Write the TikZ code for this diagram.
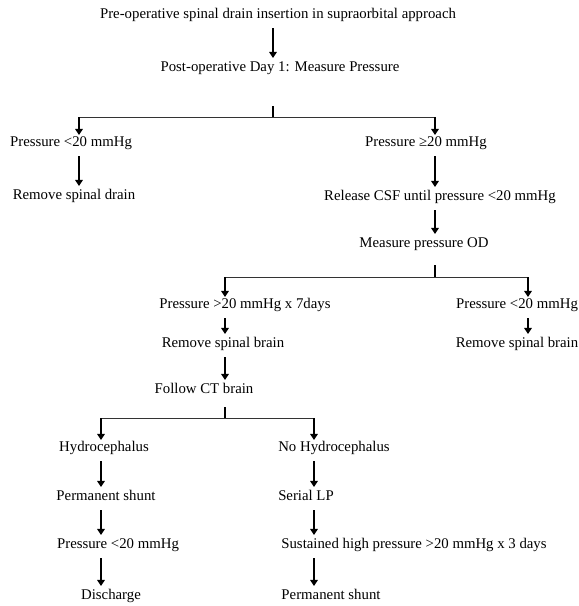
\documentclass[tikz,border=0pt]{standalone}
\usepackage{fontspec}
\setmainfont{Liberation Serif}
\usetikzlibrary{arrows.meta}

\begin{document}
\begin{tikzpicture}[x=1pt, y=-1pt,
    every node/.style={font=\fontsize{14.8}{17}\selectfont, inner sep=0pt,
      text height=10.4pt, text depth=3.3pt},
    flow/.style={line width=1.6pt, -{Triangle[length=6pt,width=7.5pt]},
      shorten <=6pt, shorten >=3pt},
    drop/.style={line width=1.6pt, -{Triangle[length=6pt,width=7.5pt]},
      shorten >=1pt},
    tick/.style={line width=1.6pt},
    bar/.style={line width=0.9pt, black!80}]
  \useasboundingbox (0,0) rectangle (579,606);

  % steps
  \node (pre) at (278,15) {Pre-operative spinal drain insertion in supraorbital approach};
  \node (post) at (280,68) {Post-operative Day 1: Measure Pressure};

  \node (lowA) at (71,143) {Pressure <20 mmHg};
  \node (highA) at (426,143) {Pressure ≥20 mmHg};
  \node (removeA) at (74,196) {Remove spinal drain};
  \node (release) at (440,197) {Release CSF until pressure <20 mmHg};
  \node (measure) at (424,244) {Measure pressure OD};

  \node (highB) at (245,305) {Pressure >20 mmHg x 7days};
  \node (lowB) at (517,305) {Pressure <20 mmHg};
  \node (removeB) at (223,344) {Remove spinal brain};
  \node (removeC) at (517,344) {Remove spinal brain};
  \node (follow) at (204,390) {Follow CT brain};

  \node (hydro) at (104,448) {Hydrocephalus};
  \node (nohydro) at (334,448) {No Hydrocephalus};
  \node (shuntA) at (106,497) {Permanent shunt};
  \node (serial) at (306,497) {Serial LP};
  \node (lowC) at (118,545) {Pressure <20 mmHg};
  \node (sustained) at (414,545) {Sustained high pressure >20 mmHg x 3 days};
  \node (discharge) at (111,596) {Discharge};
  \node (shuntB) at (331,596) {Permanent shunt};

  % branch points
  \coordinate (up1) at (273,106);
  \coordinate (mid1) at (273,117);
  \coordinate (left1) at (79,117);
  \coordinate (right1) at (435,117);
  \coordinate (up2) at (435,265);
  \coordinate (left2) at (225,277);
  \coordinate (right2) at (528,277);
  \coordinate (up3) at (225,407);
  \coordinate (left3) at (101,418);
  \coordinate (right3) at (314,418);

  \draw[flow] (mid1 |- pre.south) -- (mid1 |- post.north);
  \draw[tick] (up1) -- (mid1);
  \draw[bar] (left1) -- (right1);
  \draw[drop] (left1) -- (left1 |- lowA.north);
  \draw[drop] (right1) -- (right1 |- highA.north);
  \draw[flow] (left1 |- lowA.south) -- (left1 |- removeA.north);
  \draw[flow] (right1 |- highA.south) -- (right1 |- release.north);
  \draw[flow] (right1 |- release.south) -- (right1 |- measure.north);

  \draw[tick] (up2) -- (up2 |- left2);
  \draw[bar] (left2) -- (right2);
  \draw[drop] (left2) -- (left2 |- highB.north);
  \draw[drop] (right2) -- (right2 |- lowB.north);
  \draw[flow] (left2 |- highB.south) -- (left2 |- removeB.north);
  \draw[flow] (right2 |- lowB.south) -- (right2 |- removeC.north);
  \draw[flow] (left2 |- removeB.south) -- (left2 |- follow.north);

  \draw[tick] (up3) -- (up3 |- left3);
  \draw[bar] (left3) -- (right3);
  \draw[drop] (left3) -- (left3 |- hydro.north);
  \draw[drop] (right3) -- (right3 |- nohydro.north);
  \draw[flow] (left3 |- hydro.south) -- (left3 |- shuntA.north);
  \draw[flow] (left3 |- shuntA.south) -- (left3 |- lowC.north);
  \draw[flow] (left3 |- lowC.south) -- (left3 |- discharge.north);
  \draw[flow] (right3 |- nohydro.south) -- (right3 |- serial.north);
  \draw[flow] (right3 |- serial.south) -- (right3 |- sustained.north);
  \draw[flow] (right3 |- sustained.south) -- (right3 |- shuntB.north);
\end{tikzpicture}
\end{document}
